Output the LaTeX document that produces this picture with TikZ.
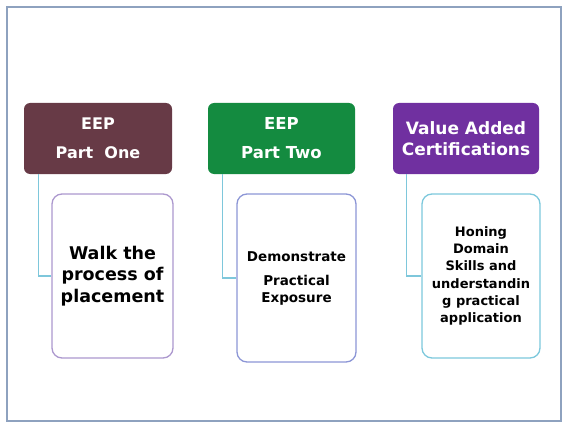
\documentclass[tikz,border=0pt]{standalone}
\usepackage{fontspec}
\setmainfont{DejaVu Sans}
\begin{document}
\begin{tikzpicture}[x=1pt,y=-1pt,
  head/.style={draw=none,rounded corners=6pt,minimum width=#1,minimum height=71pt,inner sep=0pt,text=white,font=\bfseries,align=center},
  child/.style={draw,line width=1.3pt,fill=white,rounded corners=10pt,inner sep=0pt,align=center,text=black},
  conn/.style={draw=connc,line width=1.3pt}]
\definecolor{framec}{HTML}{8EA2BF}
\definecolor{maroonc}{HTML}{673A46}
\definecolor{greenc}{HTML}{148B40}
\definecolor{purplec}{HTML}{7030A0}
\definecolor{c1b}{HTML}{AC98CE}
\definecolor{c2b}{HTML}{8C96D6}
\definecolor{c3b}{HTML}{7CC8DC}
\definecolor{connc}{HTML}{7EC7DB}
\useasboundingbox (0,0) rectangle (567,425);
\draw[framec,line width=1.5pt] (7,7) rectangle (561,421);
\node[head=148pt,fill=maroonc,font=\bfseries\fontsize{16}{18}\selectfont] (h1) at (98,138.5) {EEP\\[11pt]Part\ \ One};
\node[head=147pt,fill=greenc,font=\bfseries\fontsize{16.5}{18}\selectfont] (h2) at (281.5,138.5) {EEP\\[11pt]Part Two};
\node[head=146pt,fill=purplec,font=\bfseries\fontsize{17}{21}\selectfont] (h3) at (466,138.5) {Value Added\\Certifications};
\node[child,draw=c1b,minimum width=121pt,minimum height=164pt,font=\bfseries\fontsize{17.5}{21.5}\selectfont] (c1) at (112.5,276) {Walk the\\process of\\placement};
\node[child,draw=c2b,minimum width=119pt,minimum height=168pt,font=\bfseries\fontsize{13.5}{17}\selectfont] (c2) at (296.5,278) {Demonstrate\\[7pt]Practical\\Exposure};
\node[child,draw=c3b,minimum width=118pt,minimum height=164pt,font=\bfseries\fontsize{13}{17.2}\selectfont] (c3) at (481,276) {Honing\\Domain\\Skills and\\understandin\\g practical\\application};
\draw[conn] ([xshift=15pt]h1.south west) |- (c1.west);
\draw[conn] ([xshift=15pt]h2.south west) |- (c2.west);
\draw[conn] ([xshift=14pt]h3.south west) |- (c3.west);
\end{tikzpicture}
\end{document}
